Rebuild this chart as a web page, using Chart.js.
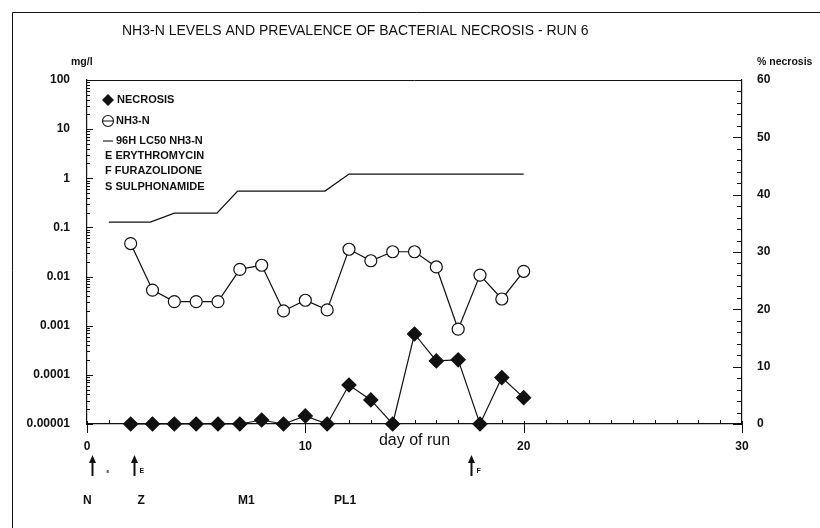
<!DOCTYPE html>
<html>
<head>
<meta charset="utf-8">
<title>NH3-N levels and bacterial necrosis - run 6</title>
<script src="https://cdn.jsdelivr.net/npm/chart.js@4.4.0/dist/chart.umd.min.js"></script>
<style>
  html, body { margin: 0; padding: 0; background: #fff; }
</style>
</head>
<body>
<canvas id="runChart" width="820" height="528"></canvas>
<script>
// day of run for the sampled points
var days = [2, 3, 4, 5, 6, 7, 8, 9, 10, 11, 12, 13, 14, 15, 16, 17, 18, 19, 20];
// % necrosis (right axis)
var necrosis = [0, 0, 0, 0, 0, 0, 0.7, 0, 1.4, 0, 6.8, 4.2, 0, 15.7, 11.0, 11.2, 0, 8.1, 4.6];
// NH3-N mg/l (left log axis)
var nh3 = [0.047, 0.0053, 0.0031, 0.0031, 0.0031, 0.014, 0.017, 0.0020, 0.0033, 0.0021,
           0.036, 0.021, 0.032, 0.032, 0.0157, 0.00085, 0.0107, 0.0035, 0.0128];
// 96h LC50 NH3-N line
var lcDays = [1, 2.9, 4, 5.95, 6.9, 10.9, 12, 20];
var lc50 = [0.128, 0.128, 0.195, 0.195, 0.55, 0.55, 1.22, 1.22];

var xTicks = [0, 10, 20, 30];
var leftTicks = [0.00001, 0.0001, 0.001, 0.01, 0.1, 1, 10, 100];
var leftTickLabels = ["0.00001", "0.0001", "0.001", "0.01", "0.1", "1", "10", "100"];
var rightTicks = [0, 10, 20, 30, 40, 50, 60];

var legendLabels = ["NECROSIS", "NH3-N", "96H LC50 NH3-N", "E ERYTHROMYCIN", "F FURAZOLIDONE", "S SULPHONAMIDE"];
// treatment arrows under the axis
var treatDays = [0.25, 2.15, 17.6];
var treatLetters = ["E", "E", "F"];
// larval stages
var stageDays = [0, 2.5, 7.1, 11.5];
var stageLabels = ["N", "Z", "M1", "PL1"];

var INK = "#111";
var FAMILY = "'Liberation Sans', Arial, sans-serif";

function pts(xs, ys) {
  return xs.map(function (x, i) { return { x: x, y: ys[i] }; });
}

var inkPlugin = {
  id: "ink",
  beforeDatasetsDraw: function (chart) {
    var ctx = chart.ctx;
    var a = chart.chartArea;
    var xs = chart.scales.x, yl = chart.scales.yL, yr = chart.scales.yR;
    ctx.save();
    ctx.strokeStyle = INK;
    ctx.lineWidth = 1;

    // outer frame (top and left)
    ctx.beginPath();
    ctx.moveTo(12.5, 528);
    ctx.lineTo(12.5, 12.5);
    ctx.lineTo(820, 12.5);
    // top of plot box
    ctx.moveTo(a.left, a.top + 0.5);
    ctx.lineTo(a.right, a.top + 0.5);
    ctx.stroke();

    ctx.beginPath();
    // left log ticks
    for (var d = 0.00001; d < 99; d *= 10) {
      for (var k = 1; k < 10; k++) {
        var py = Math.round(yl.getPixelForValue(k * d)) + 0.5;
        ctx.moveTo(a.left, py);
        ctx.lineTo(a.left + (k === 1 ? 6 : 3), py);
      }
    }
    // bottom ticks, every day
    for (var t = 0; t <= 30; t++) {
      var px = Math.round(xs.getPixelForValue(t)) + 0.5;
      if (t % 10 === 0) {
        ctx.moveTo(px, a.bottom - 3);
        ctx.lineTo(px, a.bottom + 9);
      } else {
        ctx.moveTo(px, a.bottom);
        ctx.lineTo(px, a.bottom - 4);
      }
    }
    // right ticks every 2 %
    for (var r = 0; r <= 60; r += 2) {
      var ry = Math.round(yr.getPixelForValue(r)) + 0.5;
      ctx.moveTo(a.right, ry);
      ctx.lineTo(a.right - (r % 10 === 0 ? 9 : 5), ry);
    }
    ctx.stroke();
    ctx.restore();
  },
  afterDraw: function (chart) {
    var ctx = chart.ctx;
    var xs = chart.scales.x;
    ctx.save();
    ctx.fillStyle = INK;
    ctx.strokeStyle = INK;
    ctx.textBaseline = "middle";

    // title and axis units
    ctx.font = "14px " + FAMILY;
    ctx.fillText("NH3-N LEVELS AND PREVALENCE OF BACTERIAL NECROSIS - RUN 6", 122, 31);
    ctx.font = "bold 10.5px " + FAMILY;
    ctx.fillText("mg/l", 71, 62);
    ctx.fillText("% necrosis", 757, 62);

    // legend in the plot corner
    ctx.font = "bold 11px " + FAMILY;
    var lx = 108;
    var ly = [100, 121, 141, 156, 171, 187];
    ctx.beginPath();
    ctx.moveTo(lx, ly[0] - 6); ctx.lineTo(lx + 6, ly[0]);
    ctx.lineTo(lx, ly[0] + 6); ctx.lineTo(lx - 6, ly[0]);
    ctx.closePath();
    ctx.fill();
    ctx.lineWidth = 1.1;
    ctx.beginPath();
    ctx.arc(lx, ly[1], 5.5, 0, Math.PI * 2);
    ctx.moveTo(lx - 5.5, ly[1]); ctx.lineTo(lx + 5.5, ly[1]);
    ctx.stroke();
    ctx.beginPath();
    ctx.moveTo(103, ly[2]); ctx.lineTo(113, ly[2]);
    ctx.stroke();
    ctx.fillText(legendLabels[0], 117, ly[0]);
    ctx.fillText(legendLabels[1], 116, ly[1]);
    ctx.fillText(legendLabels[2], 116, ly[2]);
    for (var i = 3; i < legendLabels.length; i++) {
      ctx.fillText(legendLabels[i], 105, ly[i]);
    }

    // treatment arrows
    treatDays.forEach(function (d, i) {
      var x = Math.round(xs.getPixelForValue(d)) + 0.5;
      ctx.lineWidth = 2;
      ctx.beginPath();
      ctx.moveTo(x, 476); ctx.lineTo(x, 461);
      ctx.stroke();
      ctx.beginPath();
      ctx.moveTo(x, 455); ctx.lineTo(x + 3.5, 463); ctx.lineTo(x - 3.5, 463);
      ctx.closePath();
      ctx.fill();
      if (i === 0) {
        ctx.font = "bold 4px " + FAMILY;
        ctx.fillText(treatLetters[i], x + 14, 472);
      } else {
        ctx.font = "bold 7px " + FAMILY;
        ctx.fillText(treatLetters[i], x + 5, 471);
      }
    });

    // larval stages
    ctx.font = "bold 12px " + FAMILY;
    stageDays.forEach(function (d, i) {
      ctx.fillText(stageLabels[i], xs.getPixelForValue(d) - 4, 501);
    });
    ctx.restore();
  }
};

var tickFont = { family: FAMILY, size: 12, weight: "bold" };

var ctx = document.getElementById("runChart").getContext("2d");
var runChart = new Chart(ctx, {
  type: "line",
  data: {
    datasets: [
      {
        label: "NECROSIS",
        data: pts(days, necrosis),
        yAxisID: "yR",
        borderColor: INK,
        borderWidth: 1.2,
        pointStyle: "rectRot",
        pointRadius: 7,
        pointBackgroundColor: INK,
        pointBorderColor: INK,
        clip: false
      },
      {
        label: "NH3-N",
        data: pts(days, nh3),
        yAxisID: "yL",
        borderColor: INK,
        borderWidth: 1.2,
        pointStyle: "circle",
        pointRadius: 6,
        pointBackgroundColor: "#fff",
        pointBorderColor: INK,
        pointBorderWidth: 1.2,
        clip: false
      },
      {
        label: "96H LC50 NH3-N",
        data: pts(lcDays, lc50),
        yAxisID: "yL",
        borderColor: INK,
        borderWidth: 1.3,
        pointRadius: 0
      }
    ]
  },
  options: {
    responsive: false,
    animation: false,
    devicePixelRatio: 1,
    layout: { padding: { top: 80, left: 0, right: 0, bottom: 0 } },
    plugins: {
      legend: { display: false },
      title: { display: false },
      tooltip: { enabled: false }
    },
    scales: {
      x: {
        type: "linear",
        position: "bottom",
        min: 0,
        max: 30,
        afterBuildTicks: function (s) { s.ticks = xTicks.map(function (v) { return { value: v }; }); },
        afterFit: function (s) { s.height = 104; },
        grid: { display: false, drawTicks: false },
        border: { display: true, color: INK, width: 1.2 },
        ticks: { color: INK, font: tickFont, padding: 15, maxRotation: 0 },
        title: {
          display: true,
          text: "day of run",
          color: INK,
          font: { family: FAMILY, size: 16 },
          padding: { top: 0, bottom: 78 }
        }
      },
      yL: {
        type: "logarithmic",
        position: "left",
        min: 0.00001,
        max: 100,
        afterBuildTicks: function (s) { s.ticks = leftTicks.map(function (v) { return { value: v }; }); },
        afterFit: function (s) { s.width = 87; },
        grid: { display: false, drawTicks: false },
        border: { display: true, color: INK, width: 1.2 },
        ticks: {
          color: INK,
          font: tickFont,
          padding: 17,
          callback: function (v) { return leftTickLabels[leftTicks.indexOf(v)]; }
        }
      },
      yR: {
        type: "linear",
        position: "right",
        min: 0,
        max: 60,
        afterBuildTicks: function (s) { s.ticks = rightTicks.map(function (v) { return { value: v }; }); },
        afterFit: function (s) { s.width = 78; },
        grid: { display: false, drawTicks: false },
        border: { display: true, color: INK, width: 1.2 },
        ticks: { color: INK, font: tickFont, padding: 15 }
      }
    }
  },
  plugins: [inkPlugin]
});
</script>
</body>
</html>
